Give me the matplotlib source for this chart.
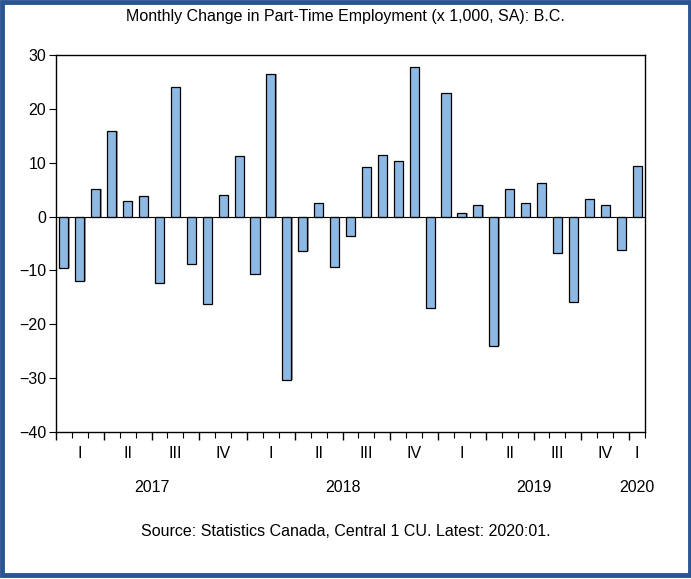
import matplotlib
matplotlib.use("Agg")
import matplotlib.pyplot as plt
import matplotlib.transforms as mtransforms
from matplotlib.patches import Rectangle

plt.rcParams["font.family"] = ["Liberation Sans", "DejaVu Sans"]

# Monthly change, Jan 2017 .. Jan 2020 (thousands)
changes = [
    -9.5, -11.9, 5.2, 15.9, 2.8, 3.8, -12.3, 24.1, -8.8, -16.3, 4.0, 11.3,   # 2017
    -10.7, 26.4, -30.3, -6.3, 2.5, -9.4, -3.6, 9.2, 11.5, 10.4, 27.7, -17.0,  # 2018
    23.0, 0.6, 2.2, -24.0, 5.1, 2.5, 6.2, -6.7, -15.8, 3.2, 2.2, -6.2,        # 2019
    9.4,                                                                      # 2020
]
quarter_labels = ["I", "II", "III", "IV"] * 3 + ["I"]
quarter_pos = [1.5 + 3 * i for i in range(12)] + [36.5]
years = ["2017", "2018", "2019", "2020"]
year_pos = [6, 18, 30, 36.5]

fig = plt.figure(figsize=(6.91, 5.79), dpi=100)
ax = fig.add_axes([56 / 691, 1 - 432 / 579, 589 / 691, 377 / 579])

x = [i + 0.5 for i in range(len(changes))]
# light shadow then the bars
ax.bar([v + 0.08 for v in x], changes, width=0.57, color="#9a9a9a", zorder=1)
ax.bar(x, changes, width=0.57, color="#8db9e4", edgecolor="black", linewidth=0.9, zorder=2)
ax.axhline(0, color="black", linewidth=0.8, zorder=3)

ax.set_xlim(0, 37)
ax.set_ylim(-40, 30)
ax.set_yticks(range(-40, 31, 10))
ax.tick_params(axis="y", direction="out", length=5, width=0.8, labelsize=11.5, pad=2)

ax.set_xticks(range(0, 38, 3))
ax.set_xticks(range(0, 38), minor=True)
ax.set_xticklabels([])
ax.tick_params(axis="x", which="major", direction="out", length=6, width=1.0)
ax.tick_params(axis="x", which="minor", direction="out", length=4, width=0.8)
for s in ax.spines.values():
    s.set_linewidth(1.0)

trans = mtransforms.blended_transform_factory(ax.transData, fig.transFigure)
for lab, p in zip(quarter_labels, quarter_pos):
    ax.text(p, 1 - 453 / 579, lab, transform=trans, ha="center", va="center", fontsize=11.5)
for lab, p in zip(years, year_pos):
    ax.text(p, 1 - 488 / 579, lab, transform=trans, ha="center", va="center", fontsize=11.5)

fig.text(0.5, 1 - 16.5 / 579, "Monthly Change in Part-Time Employment (x 1,000, SA): B.C.",
         ha="center", va="center", fontsize=11.5)
fig.text(0.5, 1 - 532 / 579, "Source: Statistics Canada, Central 1 CU. Latest: 2020:01.",
         ha="center", va="center", fontsize=11.5)

# blue frame
fig.patches.append(Rectangle((1.5 / 691, 4 / 579), 688 / 691, 573 / 579, transform=fig.transFigure,
                             fill=False, edgecolor="#2b5592", linewidth=3.5))

fig.savefig("out.png", dpi=100)
